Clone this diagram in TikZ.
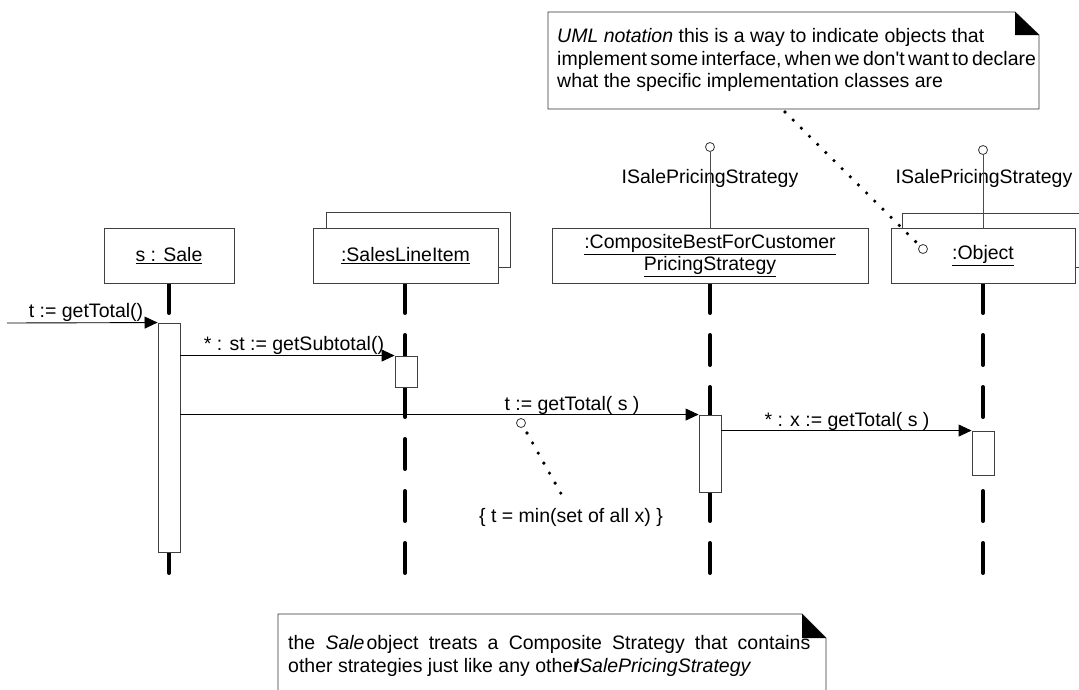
\documentclass[tikz,border=0pt]{standalone}
\usepackage{fontspec}
\setmainfont{Liberation Sans}
\usetikzlibrary{arrows.meta}
\begin{document}
\begin{tikzpicture}[x=1pt,y=-1pt,
  font=\fontsize{19.5}{22.5}\selectfont,
  objbox/.style={draw=black!75, line width=0.9pt, fill=white, inner sep=0pt},
  actbox/.style={draw=black!75, line width=0.9pt, fill=white, inner sep=0pt, minimum width=22pt},
  life/.style={line width=4pt, line cap=round, dash pattern=on 30pt off 22pt},
  msg/.style={line width=0.9pt, -{Triangle[length=13pt,width=12pt]}},
  iface/.style={draw=black!70, line width=0.9pt},
  lolli/.style={circle, draw=black!80, line width=0.8pt, fill=white, inner sep=0pt, minimum size=9pt},
  dotline/.style={line width=3.6pt, line cap=round, dash pattern=on 0pt off 11.5pt},
  notebox/.style={draw=black!80, line width=0.9pt, fill=white},
  lbl/.style={inner sep=0pt}
]
\useasboundingbox (0,0) rectangle (1079,689);
\clip (0,0) rectangle (1079,689);

% ---- top note ----
\draw[notebox] (548,12) -- (1015,12) -- (1039,35) -- (1039,109) -- (548,109) -- cycle;
\fill (1015,12) -- (1015,35) -- (1039,35) -- cycle;
\node[lbl, anchor=west, align=left] (n1) at (557,60) {\textit{UML notation} this is a way to indicate objects that\\{\spaceskip=3.3pt\relax implement some interface, when we don\textquotesingle t want to declare}\\what the specific implementation classes are};
\coordinate (n1b) at (785,112);

% ---- lifelines ----
\coordinate (saleend) at (169,575);
\coordinate (sliend) at (405,575);
\coordinate (compend) at (710,575);
\coordinate (objend) at (983,575);
\draw[life] (169,283) -- (saleend);
\draw[life] (405,283) -- (sliend);
\draw[life] (710,283) -- (compend);
\draw[life] (983,283) -- (objend);

% ---- object boxes ----
\node[objbox, minimum width=130pt, minimum height=55pt] (sale) at (169,255.5) {\underline{s : Sale}};
\node[objbox, minimum width=184pt, minimum height=55pt] (sliback) at (418,239.5) {};
\node[objbox, minimum width=185pt, minimum height=55pt] (sli) at (405.5,255.5) {\underline{:SalesLineItem}};
\node[objbox, minimum width=316pt, minimum height=55pt, align=center] (comp) at (710,255.5) {\underline{:CompositeBestForCustomer}\\\underline{PricingStrategy}};
\node[objbox, minimum width=190pt, minimum height=54pt] (objback) at (997,240) {};
\node[objbox, minimum width=184pt, minimum height=55pt] (obj) at (983,255.5) {\underline{:Object}};

% ---- interfaces ----
\node[lbl] (if1) at (710,178) {ISalePricingStrategy};
\node[lbl] (if2) at (984,178) {ISalePricingStrategy};
\node[lolli] (l1) at (710,147) {};
\node[lolli] (l2) at (983,150) {};
\draw[iface] (l1) -- (comp.north);
\draw[iface] (l2) -- (obj.north);

% ---- activations ----
\node[actbox, minimum height=229pt] (saleact) at (169,437.5) {};
\node[actbox, minimum height=31pt] (sliact) at (406,371.5) {};
\node[actbox, minimum height=77pt] (compact) at (710,453.5) {};
\node[actbox, minimum height=44pt] (objact) at (983,453) {};

% ---- messages ----
\coordinate (start) at (7,323);
\draw[msg] (start) -- (saleact.north west);
\node[lbl] (m1) at (86,312) {t := getTotal()};
\draw[msg] (saleact.east |- sliact.north) -- (sliact.north west);
\node[lbl] (m2) at (294,345) {* : st := getSubtotal()};
\draw[msg] (saleact.east |- compact.north) -- (compact.north west);
\node[lbl] (m3) at (572,405) {t := getTotal( s )};
\draw[msg] (compact.east |- objact.north) -- (objact.north west);
\node[lbl] (m4) at (847,421) {* : x := getTotal( s )};

% ---- constraint note ----
\node[lolli] (c1) at (521,423) {};
\node[lbl] (cons) at (571,517) {\{ t = min(set of all x) \}};
\coordinate (c1s) at (527,433);
\coordinate (conse) at (564,499);
\draw[dotline] (c1s) -- (conse);

% ---- top note anchor ----
\node[lolli] (c2) at (923,249) {};
\draw[dotline] (n1b) -- (c2);

% ---- bottom note ----
\draw[notebox] (278,614) -- (802,614) -- (826,638) -- (826,700) -- (278,700) -- cycle;
\fill (802,614) -- (802,638) -- (826,638) -- cycle;
\node[lbl, anchor=west, align=left] (n2) at (288,656) {{\spaceskip=10.2pt\relax the \textit{Sale}\hspace{2pt}object treats a Composite Strategy that contains}\\other strategies just like any other\hspace{-6pt}\textit{ISalePricingStrategy}};
\end{tikzpicture}
\end{document}
